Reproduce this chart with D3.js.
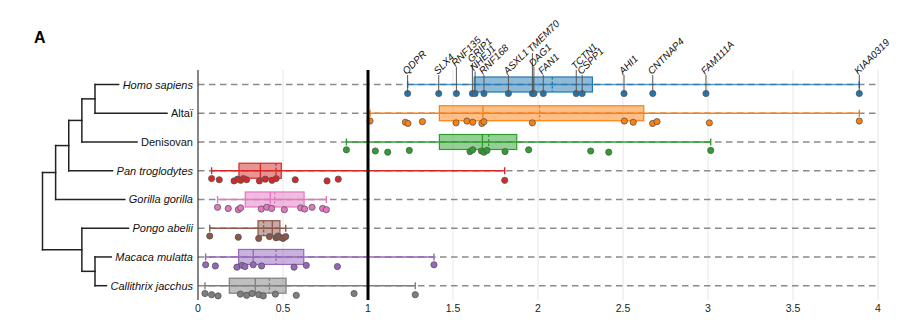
<!DOCTYPE html>
<html>
<head>
<meta charset="utf-8">
<script src="https://cdn.jsdelivr.net/npm/d3@7"></script>
<style>
  body { margin: 0; background: #fff; }
  svg { font-family: "Liberation Sans", Arial, sans-serif; }
</style>
</head>
<body>
<div id="chart-area"></div>
<script>
// species, top to bottom
var species = ["Homo sapiens", "Altaï", "Denisovan", "Pan troglodytes",
  "Gorilla gorilla", "Pongo abelii", "Macaca mulatta", "Callithrix jacchus"];
var italicNames = ["Homo sapiens", "Pan troglodytes", "Gorilla gorilla",
  "Pongo abelii", "Macaca mulatta", "Callithrix jacchus"];

// box statistics per species
var q1     = [1.625, 1.42, 1.42, 0.241, 0.278, 0.353, 0.239, 0.184];
var median = [1.97, 1.676, 1.673, 0.367, 0.425, 0.437, 0.325, 0.337];
var mean   = [2.084, 2.01, 1.71, 0.459, 0.451, 0.386, 0.459, 0.42];
var q3     = [2.32, 2.622, 1.875, 0.49, 0.624, 0.482, 0.622, 0.518];

// human genes and their values
var genes = ["QDPR", "SLX4", "RNF135", "GRIP1", "NHEJ1", "RNF168", "ASXL1",
  "TMEM70", "DAG1", "FAN1", "TCTN1", "CSPP1", "AHI1", "CNTNAP4", "FAM111A", "KIAA0319"];
var homoValues = [1.233, 1.416, 1.52, 1.614, 1.63, 1.682, 1.826, 1.967, 1.976,
  2.031, 2.225, 2.26, 2.506, 2.675, 2.988, 3.89];

var altaiValues = [1.012, 1.22, 1.235, 1.32, 1.518, 1.582, 1.616, 1.67, 1.682,
  1.967, 2.508, 2.56, 2.674, 2.70, 3.008, 3.89];
var denisovanValues = [0.873, 1.043, 1.116, 1.243, 1.6, 1.616, 1.667, 1.682,
  1.70, 1.806, 1.945, 2.31, 2.416, 3.016];
var panValues = [0.08, 0.125, 0.212, 0.233, 0.251, 0.267, 0.286, 0.361, 0.396,
  0.435, 0.46, 0.572, 0.759, 0.825, 1.804];
var gorillaValues = [0.115, 0.178, 0.237, 0.251, 0.372, 0.404, 0.433, 0.508,
  0.604, 0.627, 0.671, 0.733, 0.755];
var pongoValues = [0.069, 0.237, 0.357, 0.42, 0.459, 0.47, 0.482, 0.50, 0.516];
var macacaValues = [0.045, 0.102, 0.229, 0.259, 0.276, 0.325, 0.374, 0.565,
  0.637, 0.82, 1.388];
var callithrixValues = [0.041, 0.08, 0.118, 0.249, 0.286, 0.318, 0.357, 0.384,
  0.455, 0.578, 0.918, 1.278];

var xTicks = [0, 0.5, 1, 1.5, 2, 2.5, 3, 3.5, 4];
var xTickLabels = ["0", "0.5", "1", "1.5", "2", "2.5", "3", "3.5", "4"];

// phylogeny
var tree = { children: [
  { children: [
    { children: [
      { children: [
        { children: [{ name: "Homo sapiens" }, { name: "Altaï" }] },
        { name: "Denisovan" }] },
      { name: "Pan troglodytes" }] },
    { name: "Gorilla gorilla" }] },
  { children: [
    { name: "Pongo abelii" },
    { children: [{ name: "Macaca mulatta" }, { name: "Callithrix jacchus" }] }] }
] };

var colors = ["#1f77b4", "#ff7f0e", "#2ca02c", "#d62728", "#e377c2", "#8c564b", "#9467bd", "#7f7f7f"];
var allValues = [homoValues, altaiValues, denisovanValues, panValues,
  gorillaValues, pongoValues, macacaValues, callithrixValues];

// label lift (px) for crowded gene names
var labelLift = { RNF135: 8, GRIP1: 12, NHEJ1: 3.5, TMEM70: 22, DAG1: 8, TCTN1: 5 };

var width = 908, height = 322;
var plotTop = 70, plotBottom = 300;

var svg = d3.select("#chart-area")
  .append("svg")
  .attr("width", width)
  .attr("height", height);

var x = d3.scaleLinear().domain([0, 4]).range([198, 878]);
var y = d3.scalePoint().domain(species).range([84.5, 285.7]);

svg.append("text")
  .attr("x", 34).attr("y", 43)
  .attr("font-size", 16).attr("font-weight", "bold")
  .text("A");

// grid lines
svg.append("g")
  .selectAll("line")
  .data(xTicks.filter(d => d !== 0 && d !== 1))
  .enter().append("line")
  .attr("x1", d => x(d)).attr("x2", d => x(d))
  .attr("y1", plotTop).attr("y2", plotBottom)
  .attr("stroke", "#e6e6e6").attr("stroke-width", 1);

// tick labels
svg.append("g")
  .selectAll("text")
  .data(xTicks)
  .enter().append("text")
  .attr("x", d => x(d)).attr("y", 312)
  .attr("text-anchor", "middle")
  .attr("font-size", 10.5).attr("fill", "#222")
  .text((d, i) => xTickLabels[i]);

// row guide lines
svg.append("g")
  .selectAll("line")
  .data(species)
  .enter().append("line")
  .attr("x1", x(0)).attr("x2", x(4))
  .attr("y1", d => y(d)).attr("y2", d => y(d))
  .attr("stroke", "#8a8a8a").attr("stroke-width", 1.6)
  .attr("stroke-dasharray", "6.5,4.5");

// y axis line
svg.append("line")
  .attr("x1", x(0)).attr("x2", x(0))
  .attr("y1", plotTop).attr("y2", plotBottom)
  .attr("stroke", "#333").attr("stroke-width", 1.2);

// boxes
var boxH = 15;
var rows = svg.append("g")
  .selectAll("g")
  .data(species)
  .enter().append("g")
  .attr("transform", d => "translate(0," + y(d) + ")");

rows.each(function(name, i) {
  var g = d3.select(this);
  var c = colors[i];
  var ext = d3.extent(allValues[i]);

  // whiskers
  g.append("line")
    .attr("x1", x(ext[0])).attr("x2", x(ext[1]))
    .attr("y1", 0).attr("y2", 0)
    .attr("stroke", c).attr("stroke-width", 1.4)
    .attr("stroke-opacity", i === 0 ? 0.75 : 1);
  g.selectAll(".cap")
    .data(ext)
    .enter().append("line")
    .attr("x1", d => x(d)).attr("x2", d => x(d))
    .attr("y1", -3.5).attr("y2", 3.5)
    .attr("stroke", c).attr("stroke-width", 1.4);

  g.append("rect")
    .attr("x", x(q1[i]))
    .attr("y", -boxH / 2)
    .attr("width", x(q3[i]) - x(q1[i]))
    .attr("height", boxH)
    .attr("fill", c).attr("fill-opacity", 0.5)
    .attr("stroke", c).attr("stroke-width", 1.2);

  g.append("line")
    .attr("x1", x(median[i])).attr("x2", x(median[i]))
    .attr("y1", -boxH / 2).attr("y2", boxH / 2)
    .attr("stroke", c).attr("stroke-width", 1.3);

  g.append("line")
    .attr("x1", x(mean[i])).attr("x2", x(mean[i]))
    .attr("y1", -boxH / 2).attr("y2", boxH / 2)
    .attr("stroke", c).attr("stroke-width", 1.3)
    .attr("stroke-dasharray", "2.5,2");
});

// gene stems and labels for the human row
var hy = y("Homo sapiens");
var geneData = genes.map((g, i) => ({ gene: g, value: homoValues[i] }));
var labelBase = hy - 9.5;

svg.append("g")
  .selectAll("line")
  .data(geneData)
  .enter().append("line")
  .attr("x1", d => x(d.value)).attr("x2", d => x(d.value))
  .attr("y1", hy + 9)
  .attr("y2", d => labelBase - (labelLift[d.gene] || 0))
  .attr("stroke", "#555").attr("stroke-width", 1);

svg.append("g")
  .selectAll("text")
  .data(geneData)
  .enter().append("text")
  .attr("transform", d => "translate(" + (x(d.value) - 1) + "," + (labelBase - (labelLift[d.gene] || 0)) + ") rotate(-45)")
  .attr("font-size", 10).attr("font-style", "italic").attr("fill", "#111")
  .text(d => d.gene);

// points
rows.each(function(name, i) {
  var g = d3.select(this);
  g.selectAll("circle")
    .data(allValues[i])
    .enter().append("circle")
    .attr("cx", d => x(d))
    .attr("cy", (d, j) => i === 0 ? 9 : 9 + ((j * 7) % 5 - 2) * 0.6)
    .attr("r", 3.1)
    .attr("fill", colors[i])
    .attr("stroke", "#555").attr("stroke-width", 0.8);
});

// black reference line at 1
svg.append("line")
  .attr("x1", x(1)).attr("x2", x(1))
  .attr("y1", plotTop).attr("y2", plotBottom)
  .attr("stroke", "#000").attr("stroke-width", 3);

// species labels
var labelRight = 193;
var labels = svg.append("g")
  .selectAll("text")
  .data(species)
  .enter().append("text")
  .attr("x", labelRight)
  .attr("y", d => y(d) + 4)
  .attr("text-anchor", "end")
  .attr("font-size", 11)
  .attr("font-style", d => italicNames.indexOf(d) >= 0 ? "italic" : "normal")
  .attr("fill", "#111")
  .text(d => d);

var labelStart = {};
labels.each(function(d) {
  labelStart[d] = labelRight - this.getComputedTextLength() - 4;
});

// dendrogram
var root = d3.hierarchy(tree);
var depthX = d3.scaleLinear().domain([1, 5]).range([95, 42.5]);
root.eachAfter(n => {
  if (n.children) {
    n.py = (n.children[0].py + n.children[n.children.length - 1].py) / 2;
    n.px = depthX(n.height);
  } else {
    n.py = y(n.data.name);
    n.px = labelStart[n.data.name];
  }
});

var treeG = svg.append("g")
  .attr("fill", "none").attr("stroke", "#222").attr("stroke-width", 1.5)
  .attr("stroke-linecap", "square");

root.descendants().filter(n => n.children).forEach(n => {
  var first = n.children[0], last = n.children[n.children.length - 1];
  treeG.append("line")
    .attr("x1", n.px).attr("x2", n.px)
    .attr("y1", first.py).attr("y2", last.py);
  n.children.forEach(ch => {
    treeG.append("line")
      .attr("x1", n.px).attr("x2", ch.px)
      .attr("y1", ch.py).attr("y2", ch.py);
  });
});
</script>
</body>
</html>
